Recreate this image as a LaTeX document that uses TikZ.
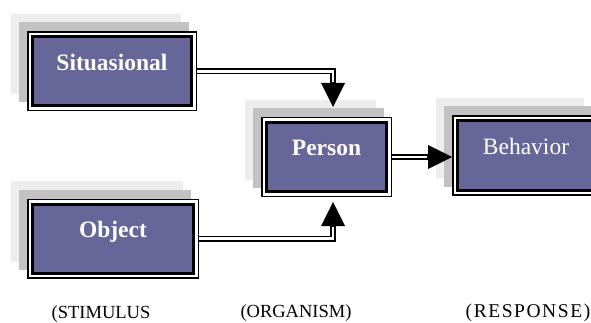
\documentclass[tikz,border=0pt]{standalone}
\usepackage{fontspec}
\setmainfont{Liberation Serif}
\usepackage{xcolor}
\usepackage{tikz}
\usetikzlibrary{arrows.meta,calc}

\definecolor{cardfill}{HTML}{666699}
\newcommand\cardfont{\fontsize{23.5}{28}\selectfont}
\newcommand\stagefont{\fontsize{18.5}{22}\selectfont}

\begin{document}
\begin{tikzpicture}[x=1pt, y=1pt,
  card/.style={draw=black, line width=3pt, fill=cardfill, text=white,
               inner sep=0pt, outer sep=5.5pt,
               text height=33.5pt, text depth=35.5pt,
               font=\cardfont\bfseries,
               preaction={draw=black!7, fill=black!4, line width=11pt,
                          transform canvas={shift={(-16pt,17pt)}}},
               preaction={draw=black!24, fill=black!14, line width=11pt,
                          transform canvas={shift={(-8pt,9pt)}}},
               preaction={draw=black, line width=11pt},
               preaction={draw=white, line width=8pt}},
  link/.style={line width=6pt,
               -{Triangle[length=24pt 0,width=24pt 0,line width=0pt]},
               postaction={draw=white, line width=2.6pt, -, shorten >=25pt}},
  stage/.style={font=\stagefont, anchor=base, inner sep=0pt},
]
  \clip (0,0) rectangle (591,-323);
  %% stimulus side
  \node[card, minimum width=159pt] (sit) at (112,-71.5)  {Situasional};
  \node[card, minimum width=161pt] (obj) at (113,-238.5) {Object};
  %% organism and response
  \node[card, minimum width=120pt] (per) at (326.5,-157) {Person};
  \node[card, minimum width=137pt, font=\cardfont] (beh) at (526,-155.5) {Behavior};
  %% connectors
  \draw[link] (sit.east) -| ([xshift=6.5pt,yshift=10pt]per.north);
  \draw[link] (obj.east) -| ([xshift=6.5pt,yshift=-5pt]per.south);
  \draw[link] (per.east) -- (per.east -| beh.west);
  %% stage labels
  \node[stage] (stim) at (101,-318.5) {(STIMULUS};
  \node[stage] (orga) at (296,-317) {(ORGANISM)};
  \node[stage, font=\fontsize{19.5}{23}\selectfont\addfontfeature{LetterSpace=8}] (resp) at (528,-317) {(RESPONSE)};
\end{tikzpicture}
\end{document}
